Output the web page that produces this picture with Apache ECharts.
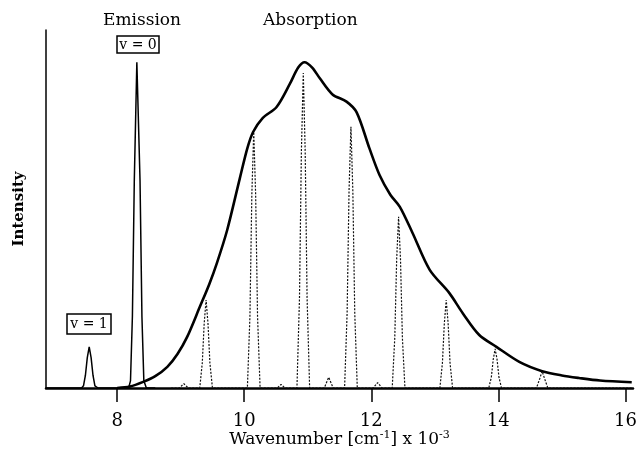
<!DOCTYPE html>
<html>
<head>
<meta charset="utf-8">
<script src="https://cdn.jsdelivr.net/npm/echarts@6/dist/echarts.min.js"></script>
<style>
  html, body { margin: 0; padding: 0; background: #fff; }
  #chart { width: 640px; height: 450px; }
</style>
</head>
<body>
<div id="chart"></div>
<script>
// emission spectrum (thin solid): v = 1 and v = 0 bands
var emission = [
    [6.88, 0], [7.44, 0], [7.47, 0.006], [7.50, 0.035], [7.53, 0.085], [7.56, 0.115],
    [7.59, 0.085], [7.62, 0.035], [7.65, 0.006], [7.70, 0],
    [8.18, 0], [8.21, 0.02], [8.24, 0.2], [8.27, 0.58], [8.31, 0.91], [8.36, 0.58],
    [8.39, 0.2], [8.42, 0.02], [8.46, 0], [8.60, 0]
];

// absorption envelope (thick solid)
var absorption = [
    [8.0, 0], [8.2, 0.004], [8.41, 0.017], [8.6, 0.033], [8.79, 0.059], [8.95, 0.095],
    [9.10, 0.142], [9.30, 0.226], [9.45, 0.29], [9.57, 0.349], [9.73, 0.44], [9.93, 0.585],
    [10.05, 0.67], [10.14, 0.715], [10.29, 0.754], [10.51, 0.785], [10.72, 0.85], [10.85, 0.895],
    [10.95, 0.91], [11.07, 0.895], [11.19, 0.865], [11.39, 0.82], [11.61, 0.80], [11.77, 0.77],
    [11.97, 0.67], [12.13, 0.595], [12.30, 0.54], [12.45, 0.506], [12.65, 0.433], [12.92, 0.33],
    [13.23, 0.265], [13.44, 0.209], [13.70, 0.148], [13.97, 0.115], [14.33, 0.073], [14.69, 0.047],
    [15.0, 0.035], [15.27, 0.028], [15.6, 0.021], [16.1, 0.016]
];

// vibronic progression (dotted)
var progression = [
    [8.85, 0], [8.98, 0], [9.05, 0.012], [9.12, 0],
    [9.30, 0], [9.34, 0.07], [9.37, 0.18], [9.40, 0.246], [9.43, 0.18], [9.46, 0.07], [9.50, 0],
    [10.05, 0], [10.09, 0.2], [10.12, 0.54], [10.15, 0.715], [10.18, 0.54], [10.21, 0.2], [10.25, 0],
    [10.52, 0], [10.58, 0.01], [10.64, 0],
    [10.83, 0], [10.87, 0.25], [10.90, 0.66], [10.93, 0.88], [10.96, 0.66], [10.99, 0.25], [11.03, 0],
    [11.26, 0], [11.33, 0.03], [11.40, 0],
    [11.58, 0], [11.62, 0.21], [11.65, 0.55], [11.68, 0.73], [11.71, 0.55], [11.74, 0.21], [11.78, 0],
    [12.03, 0], [12.10, 0.015], [12.17, 0],
    [12.33, 0], [12.37, 0.14], [12.40, 0.36], [12.43, 0.478], [12.46, 0.36], [12.49, 0.14], [12.53, 0],
    [13.08, 0], [13.12, 0.07], [13.15, 0.18], [13.18, 0.246], [13.21, 0.18], [13.24, 0.07], [13.28, 0],
    [13.85, 0], [13.89, 0.03], [13.92, 0.08], [13.95, 0.109], [13.98, 0.08], [14.01, 0.03], [14.05, 0],
    [14.60, 0], [14.65, 0.025], [14.69, 0.047], [14.73, 0.025], [14.78, 0],
    [16.1, 0]
];

var xTicks = [8, 10, 12, 14, 16];

var serif = '"DejaVu Serif", "Liberation Serif", serif';

var chart = echarts.init(document.getElementById('chart'));
var option = {
    animation: false,
    backgroundColor: '#fff',
    grid: {
        left: 46,
        right: 7,
        top: 30,
        bottom: 62,
        outerBoundsMode: 'none'
    },
    xAxis: {
        type: 'value',
        min: 6.88,
        max: 16.12,
        name: 'Wavenumber [cm{sup|-1}] x 10{sup|-3}',
        nameLocation: 'middle',
        nameGap: 42,
        nameMoveOverlap: false,
        nameTextStyle: {
            fontFamily: serif,
            fontSize: 17,
            color: '#000',
            rich: {
                sup: { fontFamily: serif, fontSize: 11, color: '#000', verticalAlign: 'top', lineHeight: 20 }
            }
        },
        splitLine: { show: false },
        axisLine: { lineStyle: { color: '#000', width: 2.5 } },
        axisTick: {
            customValues: xTicks,
            length: 14,
            lineStyle: { color: '#000', width: 1.5 }
        },
        axisLabel: {
            customValues: xTicks,
            margin: 24,
            fontFamily: serif,
            fontSize: 18,
            color: '#000'
        }
    },
    yAxis: {
        type: 'value',
        min: 0,
        max: 1,
        name: 'Intensity',
        nameLocation: 'middle',
        nameGap: 19,
        nameMoveOverlap: false,
        nameRotate: 90,
        nameTextStyle: {
            fontFamily: serif,
            fontSize: 15,
            fontWeight: 'bold',
            color: '#000'
        },
        splitLine: { show: false },
        axisTick: { show: false },
        axisLabel: { show: false },
        axisLine: { show: true, lineStyle: { color: '#000', width: 1.5 } }
    },
    series: [
        {
            name: 'Progression',
            type: 'line',
            data: progression,
            showSymbol: false,
            lineStyle: { color: '#111', width: 1.2, type: [2, 1.5] },
            z: 2
        },
        {
            name: 'Emission',
            type: 'line',
            data: emission,
            showSymbol: false,
            lineStyle: { color: '#000', width: 1.5 },
            z: 3
        },
        {
            name: 'Absorption',
            type: 'line',
            data: absorption,
            showSymbol: false,
            smooth: 0.3,
            lineStyle: { color: '#000', width: 2.6 },
            z: 4
        }
    ],
    graphic: [
        {
            type: 'text', left: 103, top: 12,
            style: { text: 'Emission', font: '17px ' + serif, fill: '#000' }
        },
        {
            type: 'text', left: 263, top: 12,
            style: { text: 'Absorption', font: '17px ' + serif, fill: '#000' }
        },
        {
            type: 'rect', shape: { x: 117, y: 36, width: 42, height: 17 },
            style: { fill: '#fff', stroke: '#000', lineWidth: 1.5 }
        },
        {
            type: 'text', x: 138, y: 45,
            style: { text: 'v = 0', font: '14px ' + serif, fill: '#000', align: 'center', verticalAlign: 'middle' }
        },
        {
            type: 'rect', shape: { x: 67, y: 314, width: 44, height: 20 },
            style: { fill: '#fff', stroke: '#000', lineWidth: 1.5 }
        },
        {
            type: 'text', x: 89, y: 324,
            style: { text: 'v = 1', font: '14px ' + serif, fill: '#000', align: 'center', verticalAlign: 'middle' }
        }
    ]
};
chart.setOption(option);

window.onresize = chart.resize;
</script>
</body>
</html>
